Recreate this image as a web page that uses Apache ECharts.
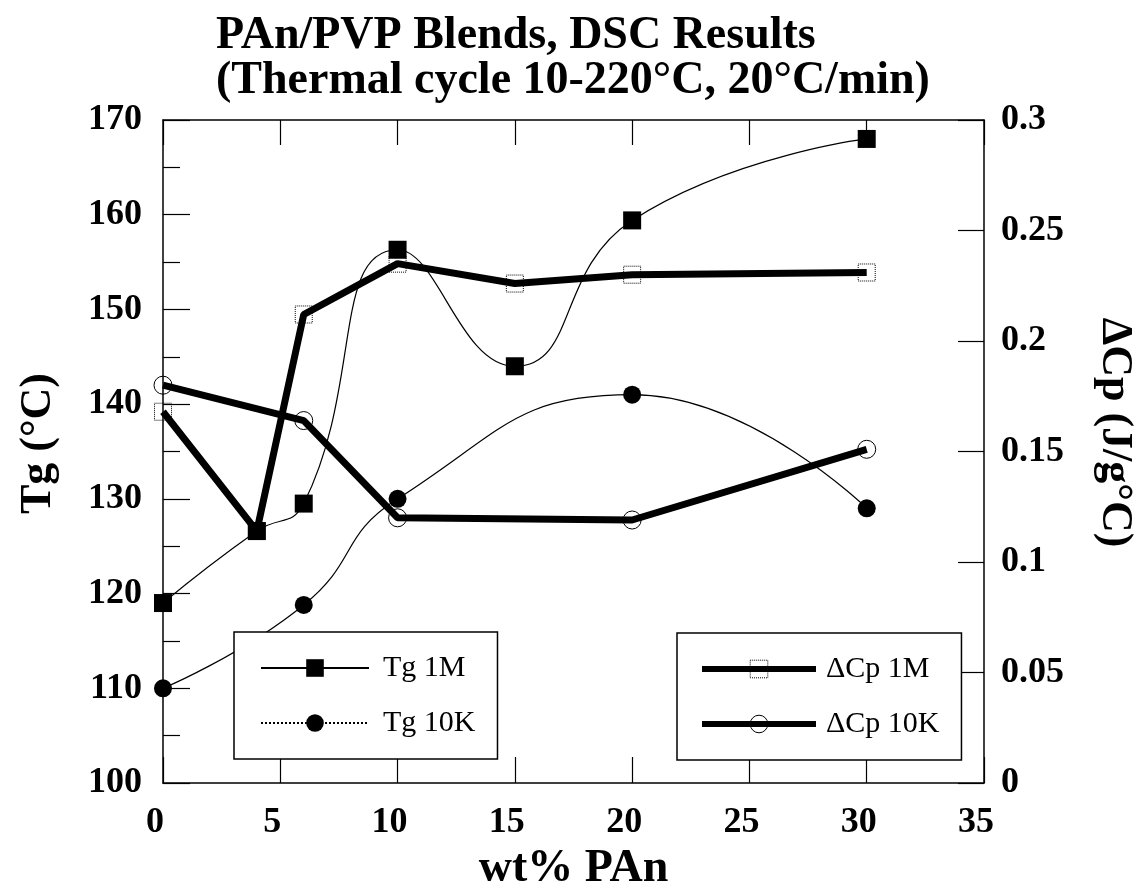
<!DOCTYPE html>
<html>
<head>
<meta charset="utf-8">
<title>PAn/PVP Blends, DSC Results</title>
<script src="https://cdn.jsdelivr.net/npm/echarts@6/dist/echarts.min.js"></script>
<style>
  html, body { margin: 0; padding: 0; background: #fff; }
  #chart { width: 1144px; height: 886px; }
</style>
</head>
<body>
<div id="chart"></div>
<script>
// 数据 - wt% PAn 与 Tg / ΔCp
var tg1mX = [0, 4, 6, 10, 15, 20, 30];
var tg1mY = [119, 126.6, 129.5, 156.3, 144, 159.4, 168];
var tg10kX = [0, 6, 10, 20, 30];
var tg10kY = [110, 118.8, 130, 141, 129];
var cp1mX = [0, 4, 6, 10, 15, 20, 30];
var cp1mY = [0.168, 0.114, 0.212, 0.235, 0.226, 0.230, 0.231];
var cp10kX = [0, 6, 10, 20, 30];
var cp10kY = [0.180, 0.164, 0.120, 0.119, 0.151];

function pairs(xs, ys) {
  return xs.map(function (x, i) { return [x, ys[i]]; });
}

(function () {
  var myChart = echarts.init(document.getElementById('chart'));
  var serif = 'Liberation Serif';
  var black = '#000';

  // 刻度文字样式
  var tickLabel = {
    color: black,
    fontFamily: serif,
    fontWeight: 'bold',
    fontSize: 36
  };
  var nameStyle = {
    color: black,
    fontFamily: serif,
    fontWeight: 'bold',
    fontSize: 44
  };
  // 边框线 (不贴零点)
  var frame = { show: true, onZero: false, lineStyle: { color: black, width: 1.5 } };
  var tickStyle = { color: black, width: 1.2 };

  var legendBase = {
    orient: 'vertical',
    backgroundColor: '#fff',
    borderColor: black,
    borderWidth: 1.5,
    itemHeight: 22,
    itemGap: 25,
    textStyle: {
      color: black,
      fontFamily: serif,
      fontSize: 30,
      lineHeight: 30
    }
  };

  var option = {
    animation: false,
    title: {
      text: 'PAn/PVP Blends, DSC Results\n(Thermal cycle 10-220°C, 20°C/min)',
      left: 211,
      top: 9,
      textStyle: {
        color: black,
        fontFamily: serif,
        fontWeight: 'bold',
        fontSize: 46,
        lineHeight: 45
      }
    },
    legend: [
      Object.assign({}, legendBase, {
        left: 234,
        top: 632,
        padding: [21, 22, 21, 26],
        itemWidth: 108,
        textStyle: Object.assign({}, legendBase.textStyle, { padding: [0, 0, 0, 9] }),
        data: [
          { name: 'Tg 1M' },
          { name: 'Tg 10K', lineStyle: { type: 'dotted' } }
        ]
      }),
      Object.assign({}, legendBase, {
        left: 677,
        top: 633,
        padding: [21, 22, 21, 22],
        itemWidth: 114,
        textStyle: Object.assign({}, legendBase.textStyle, { padding: [0, 0, 0, 5] }),
        data: [
          { name: 'ΔCp 1M', lineStyle: { width: 6 }, itemStyle: { borderType: 'dotted', borderWidth: 1 } },
          { name: 'ΔCp 10K', lineStyle: { width: 6 }, itemStyle: { borderWidth: 1 } }
        ]
      })
    ],
    grid: {
      left: 163,
      right: 160,
      top: 120,
      bottom: 103,
      outerBoundsMode: 'none'
    },
    xAxis: [
      {
        type: 'value',
        min: 0,
        max: 35,
        interval: 5,
        name: 'wt% PAn',
        nameLocation: 'middle',
        nameGap: 59,
        nameTextStyle: Object.assign({}, nameStyle, { fontSize: 46 }),
        axisLine: frame,
        axisTick: { inside: true, length: 26, lineStyle: tickStyle },
        axisLabel: Object.assign({ margin: 22, padding: [0, 16, 0, 0] }, tickLabel),
        splitLine: { show: false }
      },
      {
        // 顶部刻度
        type: 'value',
        position: 'top',
        min: 0,
        max: 35,
        interval: 5,
        axisLine: frame,
        axisTick: { inside: true, length: 25, lineStyle: tickStyle },
        axisLabel: { show: false },
        splitLine: { show: false }
      }
    ],
    yAxis: [
      {
        type: 'value',
        min: 100,
        max: 170,
        interval: 10,
        name: 'Tg (°C)',
        nameLocation: 'middle',
        nameRotate: 90,
        nameGap: 102,
        nameTextStyle: Object.assign({ padding: [0, 0, 0, 16] }, nameStyle),
        axisLine: frame,
        axisTick: { inside: true, length: 27, lineStyle: tickStyle },
        minorTick: { show: true, splitNumber: 2, length: 17, lineStyle: tickStyle },
        axisLabel: Object.assign({ margin: 21 }, tickLabel),
        splitLine: { show: false }
      },
      {
        type: 'value',
        position: 'right',
        min: 0,
        max: 0.3,
        interval: 0.05,
        name: 'ΔCp (J/g°C)',
        nameLocation: 'middle',
        nameRotate: -90,
        nameGap: 108,
        nameTextStyle: Object.assign({ padding: [0, 38, 0, 0] }, nameStyle),
        axisLine: frame,
        axisTick: { inside: true, length: 26, lineStyle: tickStyle },
        axisLabel: Object.assign({ margin: 17 }, tickLabel),
        splitLine: { show: false }
      }
    ],
    series: [
      {
        name: 'Tg 1M',
        type: 'line',
        smooth: true,
        clip: false,
        yAxisIndex: 0,
        symbol: 'rect',
        symbolSize: 18,
        lineStyle: { color: black, width: 1.2 },
        itemStyle: { color: black },
        data: pairs(tg1mX, tg1mY)
      },
      {
        name: 'Tg 10K',
        type: 'line',
        smooth: true,
        clip: false,
        yAxisIndex: 0,
        symbol: 'circle',
        symbolSize: 18,
        lineStyle: { color: black, width: 1.2 },
        itemStyle: { color: black },
        data: pairs(tg10kX, tg10kY)
      },
      {
        name: 'ΔCp 1M',
        type: 'line',
        clip: false,
        yAxisIndex: 1,
        symbol: 'rect',
        symbolSize: 17,
        lineStyle: { color: black, width: 7 },
        itemStyle: {
          color: 'rgba(0,0,0,0)',
          borderColor: black,
          borderWidth: 1,
          borderType: 'dotted'
        },
        data: pairs(cp1mX, cp1mY)
      },
      {
        name: 'ΔCp 10K',
        type: 'line',
        clip: false,
        yAxisIndex: 1,
        symbol: 'circle',
        symbolSize: 18,
        lineStyle: { color: black, width: 7 },
        itemStyle: {
          color: 'rgba(0,0,0,0)',
          borderColor: black,
          borderWidth: 1
        },
        data: pairs(cp10kX, cp10kY)
      }
    ]
  };

  myChart.setOption(option);
  window.addEventListener('resize', function () {
    myChart.resize();
  });
})();
</script>
</body>
</html>
